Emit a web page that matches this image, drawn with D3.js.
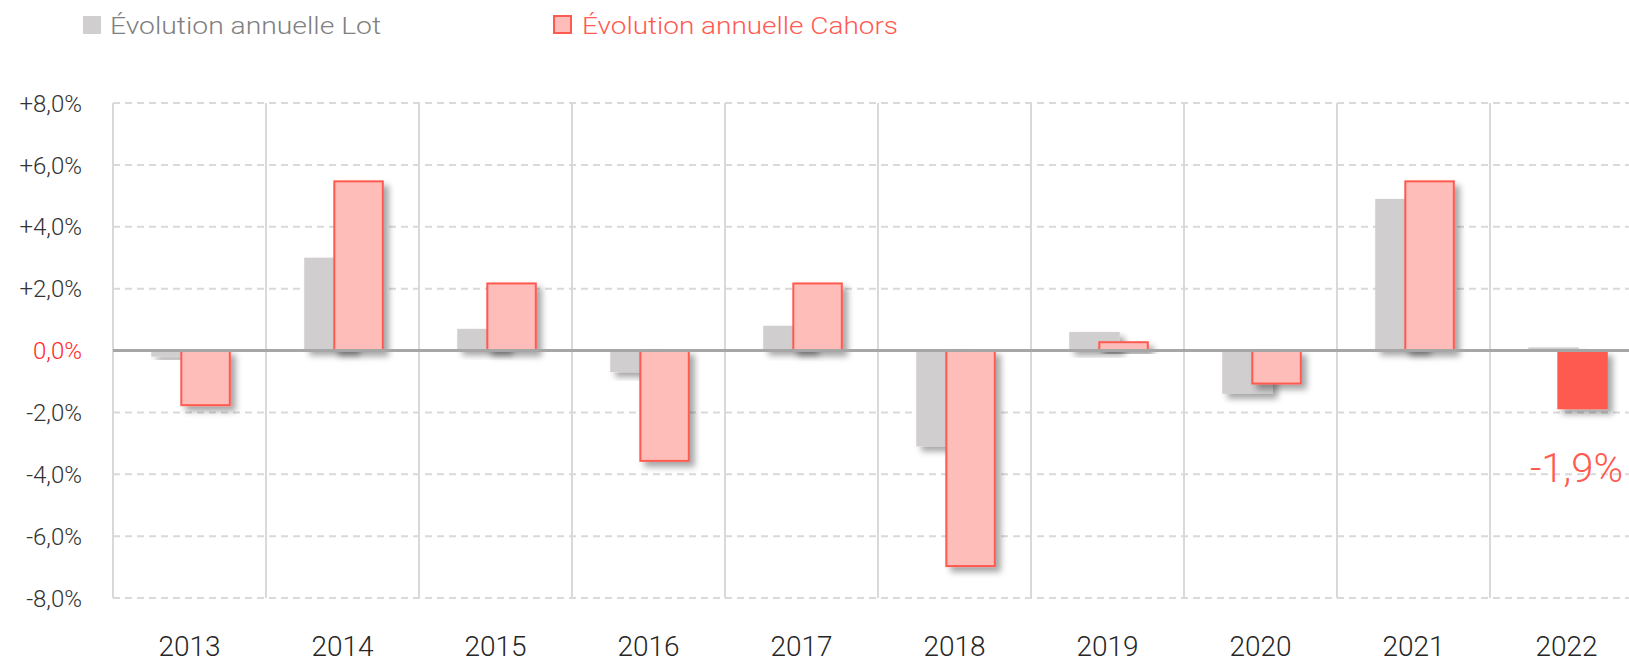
<!DOCTYPE html>
<html>
<head>
  <meta charset="utf-8">
  <script src="https://d3js.org/d3.v7.min.js"></script>
  <style>
    body { margin: 0; background: #fff; font-family: 'Roboto', 'Open Sans', sans-serif; font-weight: 300; }
  </style>
</head>
<body>
  <div id="my_dataviz"></div>
  <script>
    // data (annual change, %)
    var years = ["2013", "2014", "2015", "2016", "2017", "2018", "2019", "2020", "2021", "2022"];
    var lot = [-0.2, 3.0, 0.7, -0.7, 0.8, -3.1, 0.6, -1.4, 4.9, 0.1];
    var cahors = [-1.8, 5.5, 2.2, -3.6, 2.2, -7.0, 0.3, -1.1, 5.5, -1.9];
    var yTicks = [8, 6, 4, 2, 0, -2, -4, -6, -8];
    var legendLabels = ["Évolution annuelle Lot", "Évolution annuelle Cahors"];
    var lastLabel = "-1,9%";

    var W = 1629, H = 663;
    var plotLeft = 113, plotTop = 103, plotBottom = 598;

    var svg = d3.select("#my_dataviz")
      .append("svg")
      .attr("width", W)
      .attr("height", H)
      .style("display", "block");

    var defs = svg.append("defs");
    var f = defs.append("filter").attr("id", "shadow")
      .attr("x", "-20%").attr("y", "-20%").attr("width", "160%").attr("height", "160%");
    f.append("feDropShadow")
      .attr("dx", 5).attr("dy", 5).attr("stdDeviation", 3)
      .attr("flood-color", "#000").attr("flood-opacity", 0.35);

    // scales: the plot runs past the right edge of the picture
    var x = d3.scaleBand()
      .domain(years)
      .range([plotLeft, plotLeft + 153 * years.length]);
    var y = d3.scaleLinear()
      .domain([-8, 8])
      .range([plotBottom, plotTop]);

    var bw = x.bandwidth();

    // horizontal dashed grid
    svg.append("g").selectAll("line")
      .data(yTicks.filter(function (d) { return d !== 0; }))
      .enter().append("line")
      .attr("x1", plotLeft).attr("x2", W)
      .attr("y1", function (d) { return y(d); })
      .attr("y2", function (d) { return y(d); })
      .attr("stroke", "#d9d9d9")
      .attr("stroke-width", 2)
      .attr("stroke-dasharray", "7,5");

    // vertical category separators
    var seps = years.map(function (d) { return x(d); });
    svg.append("g").selectAll("line")
      .data(seps)
      .enter().append("line")
      .attr("x1", function (d) { return d; })
      .attr("x2", function (d) { return d; })
      .attr("y1", plotTop).attr("y2", plotBottom)
      .attr("stroke", "#d9d9d9")
      .attr("stroke-width", 2);

    // y tick labels
    svg.append("g").selectAll("text")
      .data(yTicks)
      .enter().append("text")
      .attr("x", 82)
      .attr("y", function (d) { return y(d); })
      .attr("dy", "0.36em")
      .attr("text-anchor", "end")
      .style("font-size", "24px")
      .attr("fill", function (d) { return d === 0 ? "#ff2a2a" : "#333333"; })
      .text(function (d) {
        var s = d3.format(".1f")(Math.abs(d)).replace(".", ",");
        return (d > 0 ? "+" : d < 0 ? "-" : "") + s + "%";
      });

    // x labels
    svg.append("g").selectAll("text")
      .data(years)
      .enter().append("text")
      .attr("x", function (d) { return x(d) + bw / 2; })
      .attr("y", 656)
      .attr("text-anchor", "middle")
      .style("font-size", "28px")
      .attr("fill", "#262626")
      .text(function (d) { return d; });

    // Lot bars
    svg.append("g").selectAll("rect")
      .data(lot)
      .enter().append("rect")
      .attr("x", function (d, i) { return x(years[i]) + bw * 0.25; })
      .attr("width", bw * 0.33)
      .attr("y", function (d) { return y(Math.max(0, d)); })
      .attr("height", function (d) { return Math.abs(y(d) - y(0)); })
      .attr("fill", "#d0cece")
      .attr("filter", "url(#shadow)");

    // Cahors bars
    var last = years.length - 1;
    svg.append("g").selectAll("rect")
      .data(cahors)
      .enter().append("rect")
      .attr("x", function (d, i) { return x(years[i]) + bw * 0.44 + (i === last ? 0 : 1); })
      .attr("width", function (d, i) { return bw * 0.33 - (i === last ? 0 : 2); })
      .attr("y", function (d, i) { return y(Math.max(0, d)) + (i === last || d < 0 ? 0 : 1); })
      .attr("height", function (d, i) { return Math.abs(y(d) - y(0)) - (i === last ? 0 : 1); })
      .attr("fill", function (d, i) { return i === last ? "#ff5a50" : "#ffbdba"; })
      .attr("stroke", function (d, i) { return i === last ? "none" : "#ff5a50"; })
      .attr("stroke-width", 2)
      .attr("filter", "url(#shadow)");

    // zero line
    svg.append("line")
      .attr("x1", plotLeft).attr("x2", W)
      .attr("y1", y(0)).attr("y2", y(0))
      .attr("stroke", "#a6a6a6")
      .attr("stroke-width", 3);

    // value label for the last year
    svg.append("text")
      .attr("x", 1623)
      .attr("y", 482)
      .attr("text-anchor", "end")
      .style("font-size", "40px")
      .attr("fill", "#ff5a50")
      .text(lastLabel);

    // legend
    var leg = [
      { x: 83, tx: 110, w: 271, fill: "#d0cece", stroke: "none", color: "#808080" },
      { x: 554, tx: 582, w: 316, fill: "#ffbdba", stroke: "#ff5a50", color: "#ff5a50" }
    ];
    leg.forEach(function (l, i) {
      svg.append("rect")
        .attr("x", l.x).attr("y", 16)
        .attr("width", l.stroke === "none" ? 18 : 17)
        .attr("height", l.stroke === "none" ? 18 : 17)
        .attr("fill", l.fill)
        .attr("stroke", l.stroke)
        .attr("stroke-width", 2);
      svg.append("text")
        .attr("x", l.tx).attr("y", 34)
        .style("font-size", "24px")
        .attr("fill", l.color)
        .attr("textLength", l.w)
        .attr("lengthAdjust", "spacingAndGlyphs")
        .text(legendLabels[i]);
    });
  </script>
</body>
</html>
